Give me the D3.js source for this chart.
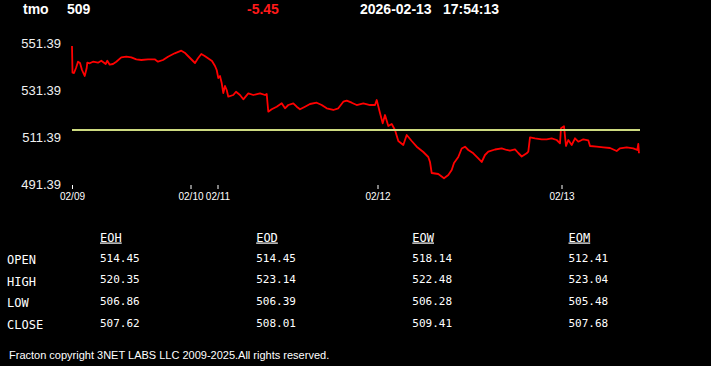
<!DOCTYPE html>
<html><head><meta charset="utf-8">
<script src="https://cdn.jsdelivr.net/npm/d3@7/dist/d3.min.js"></script>
<style>
html,body{margin:0;padding:0;background:#000;}
svg{display:block;}
</style></head>
<body>
<svg id="c" width="711" height="366"></svg>
<script>
// ---- data ----
const symbol = "tmo";
const lastPrice = "509";
const change = "-5.45";
const dateStr = "2026-02-13";
const timeStr = "17:54:13";
const openLine = 514.45;
const yTicks = [491.39, 511.39, 531.39, 551.39];
const xTickPos = [0, 118.5, 145.5, 305.5, 489.5];
const xTickLabels = ["02/09", "02/10", "02/11", "02/12", "02/13"];
const tableCols = ["EOH", "EOD", "EOW", "EOM"];
const tableRows = ["OPEN", "HIGH", "LOW", "CLOSE"];
const eohVals = ["514.45", "520.35", "506.86", "507.62"];
const eodVals = ["514.45", "523.14", "506.39", "508.01"];
const eowVals = ["518.14", "522.48", "506.28", "509.41"];
const eomVals = ["512.41", "523.04", "505.48", "507.68"];
const footer = "Fracton copyright 3NET LABS LLC 2009-2025.All rights reserved.";
// [time index, price]
const priceSeries = [
[0,550.24],[0.5,538.88],[2,538.75],[4,540.88],[6,543.56],[8,543.01],[10,540.03],[12.7,537.48],
[14.7,540.88],[15.3,543.13],[17.7,542.88],[21,543.56],[26,543.13],[29.3,543.99],[32,543.13],
[33.7,542.58],[35.3,543.99],[37.7,542.28],[41,542.58],[44.3,543.56],[49.3,545.43],[54.3,545.69],
[59.3,545.43],[64.3,544.58],[69.3,544.28],[76,544.58],[82.7,544.58],[86,543.56],[91,544.28],
[96,545.69],[102.7,547.13],[109.3,548.24],[112.7,547.39],[116,545.99],[120,544.28],[123,543.01],
[126,545.01],[129.3,546.84],[132.7,545.99],[136,545.01],[140,543.86],[143,541.73],[144.7,540.03],
[146.3,536.62],[148,537.48],[149.7,534.50],[151.3,530.24],[153,533.22],[154.7,531.52],[156.3,528.67],
[161.3,529.39],[164,530.79],[168,529.39],[171.3,527.56],[176.3,530.11],[181.3,529.39],[188,530.11],
[193,529.39],[194.7,529.82],[196.3,522.28],[199.7,523.30],[204.7,524.41],[209.7,525.86],[213,523.73],
[216.3,525.13],[221.3,525.86],[224.7,524.41],[228,523.30],[233,524.41],[238,525.56],[244.7,526.11],
[249.7,525.13],[254.7,523.73],[261.3,523.01],[266.3,523.73],[271.3,526.54],[274.7,526.96],[279.7,526.11],
[284.7,525.13],[291.3,525.86],[298,525.13],[303,525.13],[304.7,527.26],[308,521.73],[310.7,517.35],
[313,520.88],[316.3,516.20],[319.7,517.05],[323,514.50],[326.3,509.82],[331.3,508.11],[334.7,512.37],
[339.7,509.82],[344.7,507.39],[351.3,505.13],[356.3,503.01],[358,500.88],[359.7,496.20],[366.3,495.77],
[372,493.94],[376.3,495.35],[379.7,497.48],[382,500.45],[386.3,503.01],[389.7,506.62],[393,507.39],
[396.3,505.99],[401.3,504.58],[406.3,502.45],[409.7,500.88],[413,503.86],[416.3,505.26],[423,506.20],
[429.7,506.71],[434.7,505.99],[438,505.69],[443,506.28],[446.3,504.71],[449.7,503.22],[454.7,504.58],
[456.3,505.26],[458,511.39],[463,510.96],[469.7,510.54],[474.7,510.54],[479.7,510.96],[484.7,510.24],
[488,508.84],[489,515.22],[492,516.07],[494,507.69],[496.3,510.24],[499.7,508.11],[503,510.96],
[506.3,509.52],[511.3,510.54],[516.3,510.11],[518,507.69],[524.7,507.39],[531.3,507.13],[538,506.84],
[544.7,505.56],[548,506.71],[554.7,507.13],[561.3,506.71],[565.3,505.99],[566.3,508.54],[567,504.58]
];

// ---- drawing ----
const svg = d3.select("#c");
svg.append("rect").attr("width",711).attr("height",366).attr("fill","#000");

const x = d3.scaleLinear().domain([0, 567]).range([72, 639]);
const y = d3.scaleLinear().domain([491.39, 551.39]).range([184.3, 43.3]);

// header
const hdr = svg.append("g").attr("font-family","'Liberation Sans', Arial, sans-serif")
  .attr("font-weight","bold").attr("font-size","14px");
hdr.append("text").attr("x",23).attr("y",13.5).attr("fill","#fff").text(symbol);
hdr.append("text").attr("x",67).attr("y",13.5).attr("fill","#fff").text(lastPrice);
hdr.append("text").attr("x",247).attr("y",13.5).attr("fill","#ff1a1a").text(change);
hdr.append("text").attr("x",360).attr("y",13.5).attr("fill","#fff").text(dateStr);
hdr.append("text").attr("x",443).attr("y",13.5).attr("fill","#fff").text(timeStr);

// y axis labels
const yAxis = d3.axisLeft(y).tickValues(yTicks).tickSize(0).tickPadding(0)
  .tickFormat(d => d.toFixed(2));
const ya = svg.append("g").attr("transform","translate(61,0)").call(yAxis);
ya.select(".domain").remove();
ya.selectAll("text").attr("fill","#f0f0f0").attr("font-size","13px")
  .attr("font-family","'Liberation Sans', Arial, sans-serif");

// x axis
const xAxis = d3.axisBottom(x).tickValues(xTickPos).tickSize(4).tickPadding(4)
  .tickFormat((d,i) => xTickLabels[i]);
const xa = svg.append("g").attr("transform","translate(0,185)").call(xAxis);
xa.select(".domain").remove();
xa.selectAll("line").attr("stroke","#fff");
xa.selectAll("text").attr("fill","#fff").attr("font-size","10px")
  .attr("font-family","'Liberation Sans', Arial, sans-serif");

// price line
svg.append("path").datum(priceSeries)
  .attr("fill","none").attr("stroke","#ff0000").attr("stroke-width",1.8)
  .attr("stroke-linejoin","round")
  .attr("d", d3.line().x(d => x(d[0])).y(d => y(d[1])));

// open reference line
svg.append("line").attr("x1",x(0)).attr("x2",x(568)).attr("y1",y(openLine)).attr("y2",y(openLine))
  .attr("stroke","#cddb80").attr("stroke-width",2);

// table
const colX = d3.scalePoint().domain(tableCols).range([100, 568.5]);
const rowY = d3.scalePoint().domain(tableRows).range([263, 328]);
const colVals = {EOH:eohVals, EOD:eodVals, EOW:eowVals, EOM:eomVals};
const tb = svg.append("g").attr("font-family","'DejaVu Sans Mono','Liberation Mono',monospace").attr("fill","#fff");
tableCols.forEach(c => {
  tb.append("text").attr("x",colX(c)).attr("y",241.5).attr("font-size","12px")
    .attr("text-decoration","underline").text(c);
  colVals[c].forEach((v,i) => {
    tb.append("text").attr("x",colX(c)).attr("y",rowY(tableRows[i]) - 1.5)
      .attr("font-size","11px").text(v);
  });
});
tableRows.forEach(r => {
  tb.append("text").attr("x",7).attr("y",rowY(r) + 1).attr("font-size","12px").text(r);
});

// footer
svg.append("text").attr("x",9).attr("y",359).attr("fill","#fff")
  .attr("font-family","'Liberation Sans', Arial, sans-serif").attr("font-size","11px")
  .text(footer);
</script>
</body></html>
